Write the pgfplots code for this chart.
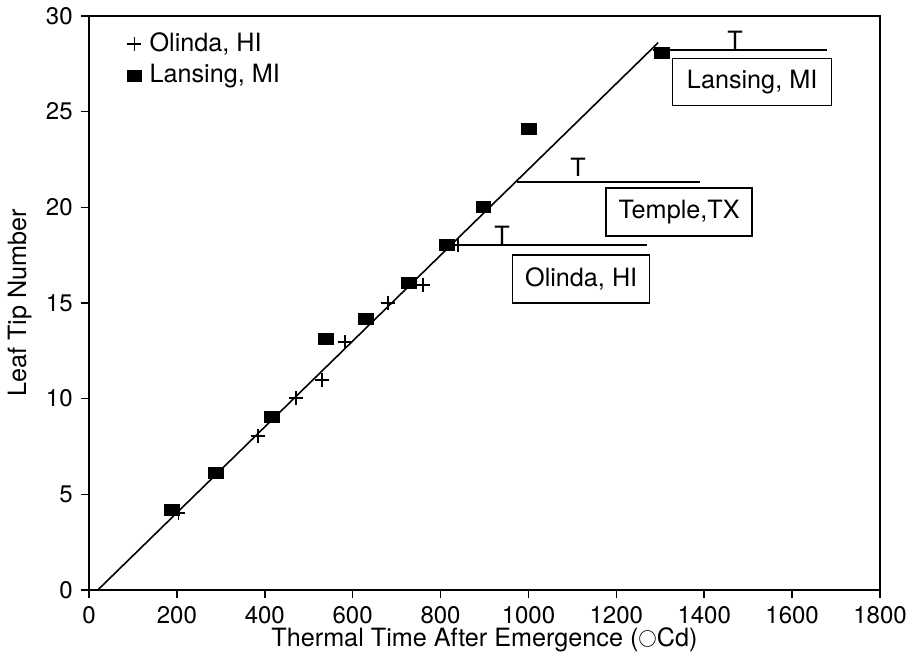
\documentclass[border=0pt]{standalone}
\usepackage{fontspec}
\setmainfont{TeX Gyre Heros}
\usepackage{graphicx}
\usepackage{pgfplots}
\pgfplotsset{compat=1.18}
\begin{document}
\fontsize{12.6}{14}\selectfont
\begin{tikzpicture}
\begin{axis}[
  scale only axis,
  width=395.5pt, height=287pt,
  xmin=0, xmax=1800, ymin=0, ymax=30,
  xtick={0,200,...,1800}, ytick={0,5,...,30},
  tick align=outside, major tick length=3.8pt,
  xtick pos=bottom, ytick pos=left,
  axis line style={line width=0.8pt},
  every tick/.style={line width=0.8pt, black},
  tick label style={font=\fontsize{12}{14}\selectfont},
  /pgf/number format/assume math mode=true,
  /pgf/number format/1000 sep={},
  xlabel={Thermal Time After Emergence (\raisebox{0.25ex}{$\scriptstyle\bigcirc$}Cd)},
  ylabel={Leaf Tip Number},
  xlabel style={yshift=6.5pt},
  ylabel style={yshift=-1.5pt},
  legend style={draw=none, fill=none, at={(0.045,0.98)}, anchor=north west,
    row sep=1.5pt, inner sep=1pt, nodes={inner sep=1.5pt},
    /tikz/every odd column/.append style={column sep=2.5pt}},
  legend cell align=left,
  clip=false,
]
\addplot[only marks, mark=+, mark size=3.6pt, mark options={line width=0.7pt}]
  coordinates {(203,4.03)(385,8.05)(471,10.04)(530,10.98)(583,12.96)(680,15.0)(760,15.94)(840,18.03)};
\addlegendentry{Olinda, HI}
\addplot[only marks, mark=square*, mark size=2.8pt, mark options={xscale=1.3}]
  coordinates {(189,4.18)(289,6.12)(416,9.04)(539,13.12)(630,14.17)(728,16.05)(815,18.03)(897,20.02)(1001,24.10)(1304,28.07)};
\addlegendentry{Lansing, MI}
\addplot[line width=0.8pt, forget plot] coordinates {(20,0)(1295,28.6)};
\addplot[line width=0.8pt, forget plot] coordinates {(1284,28.23)(1680,28.23)};
\addplot[line width=0.8pt, forget plot] coordinates {(974,21.33)(1391,21.33)};
\addplot[line width=0.8pt, forget plot] coordinates {(820,18.03)(1270,18.03)};
\node[anchor=south, inner sep=0pt] at (axis cs:1470,28.23) {T};
\node[anchor=south, inner sep=0pt, yshift=2.5pt] at (axis cs:1113,21.33) {T};
\node[anchor=south, inner sep=0pt] at (axis cs:940,18.03) {T};
\node[draw, line width=0.8pt, minimum width=79.5pt, minimum height=23.5pt, inner sep=0pt] at (axis cs:1509,26.56) {Lansing, MI};
\node[draw, line width=0.8pt, minimum width=73pt, minimum height=24pt, inner sep=0pt] at (axis cs:1343,19.76) {Temple,TX};
\node[draw, line width=0.8pt, minimum width=68.5pt, minimum height=24pt, inner sep=0pt] at (axis cs:1120,16.26) {Olinda, HI};
\end{axis}
\pgfresetboundingbox
\useasboundingbox ([shift={(-44.5pt,-33.5pt)}]current axis.south west) rectangle ([shift={(17.5pt,8pt)}]current axis.north east);
\end{tikzpicture}
\end{document}
